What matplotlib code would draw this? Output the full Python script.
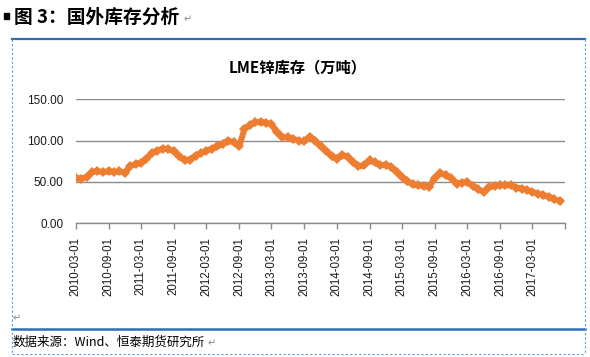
import matplotlib
matplotlib.use("Agg")
import matplotlib.pyplot as plt
from matplotlib.lines import Line2D
from matplotlib.patches import Rectangle
import datetime as dt

# ---- data (monthly readings, 2010-03 .. 2017-08), unit: 万吨 ----
start_year, start_month = 2010, 3
stock = [55, 54, 56, 62, 63, 62, 63, 62, 63, 61,
         69, 72, 73, 78, 85, 88, 90, 90, 87, 81,
         76, 77, 82, 85, 88, 90, 93, 96, 100, 98,
         93, 114, 119, 122, 123, 121, 120, 110, 104, 104,
         102, 100, 99, 105, 100, 93, 88, 81, 78, 83,
         80, 74, 69, 70, 76, 74, 70, 71, 68, 62,
         56, 51, 47, 46, 45, 44, 55, 61, 58, 55,
         48, 49, 50, 45, 41, 38, 44, 45, 46, 46,
         46, 43, 42, 40, 38, 36, 34, 32, 29, 27]
tick_labels = ["2010-03-01", "2010-09-01", "2011-03-01", "2011-09-01",
               "2012-03-01", "2012-09-01", "2013-03-01", "2013-09-01",
               "2014-03-01", "2014-09-01", "2015-03-01", "2015-09-01",
               "2016-03-01", "2016-09-01", "2017-03-01"]
y_ticks = [0, 50, 100, 150]
fig_title = "图 3：国外库存分析"
chart_title = "LME锌库存（万吨）"
source = "数据来源：Wind、恒泰期货研究所"

def month_date(i):
    m = start_month - 1 + i
    return dt.date(start_year + m // 12, m % 12 + 1, 1)

dates = [month_date(i) for i in range(len(stock))]

W, H = 590, 357
fig = plt.figure(figsize=(W / 100, H / 100), dpi=100)

def fx(px):
    return px / W

def fy(py):
    return 1 - py / H

CJK = ["Noto Sans CJK SC", "DejaVu Sans"]

ax = fig.add_axes([fx(75.7), fy(223.3), fx(565.3) - fx(75.7), fy(99.3) - fy(223.3)])
ax.plot(dates, stock, color="#ED7D31", lw=4.4, marker="D", ms=5.2,
        markeredgewidth=0, solid_joinstyle="round", zorder=3)

ax.set_ylim(0, 150)
ax.set_yticks(y_ticks)
ax.set_yticklabels([f"{v:.2f}" for v in y_ticks], fontsize=8.5, family="Liberation Sans")
ax.yaxis.grid(True, color="#8C8C8C", lw=1)
ax.set_axisbelow(True)
ax.tick_params(axis="y", length=0, pad=9, colors="#1a1a1a")

x0 = dt.date(2010, 3, 1)
x1 = dt.date(2017, 9, 1)
ax.set_xlim(x0, x1)
tick_dates = [dt.date.fromisoformat(s) for s in tick_labels] + [x1]
ax.set_xticks(tick_dates)
ax.set_xticklabels(tick_labels + [""], rotation=90, fontsize=8.3,
                   family="Liberation Sans", va="top")
ax.tick_params(axis="x", length=4, width=1, pad=6, colors="#1a1a1a")
ax.tick_params(axis="x", color="#8C8C8C")
for s in ["left", "top", "right"]:
    ax.spines[s].set_visible(False)
ax.spines["bottom"].set_color("#8C8C8C")
ax.spines["bottom"].set_linewidth(1)

# chart title
fig.text(fx(297.5), fy(67), chart_title, ha="center", va="center",
         fontsize=11, fontweight="bold", family=CJK)

# frame lines
blue = "#2E6DB4"
lblue = "#5B9BD5"
fig.add_artist(Line2D([fx(12), fx(585)], [fy(38.5), fy(38.5)], color=blue, lw=1.6))
fig.add_artist(Line2D([fx(12), fx(585)], [fy(329.3), fy(329.3)], color=blue, lw=1.8))
for xx in (12, 585):
    fig.add_artist(Line2D([fx(xx), fx(xx)], [fy(39), fy(354)], color=lblue, lw=0.8,
                          linestyle=(0, (2, 2))))
fig.add_artist(Line2D([fx(12), fx(585)], [fy(354), fy(354)], color=lblue, lw=0.8,
                      linestyle=(0, (2, 2))))

# figure heading
fig.add_artist(Rectangle((fx(4), fy(19)), fx(5) - fx(0), fy(13) - fy(19),
                         color="black", transform=fig.transFigure))
fig.text(fx(14), fy(17), fig_title, ha="left", va="center", fontsize=13.5,
         fontweight="bold", family=CJK)
fig.text(fx(184), fy(19), "↵", ha="left", va="center", fontsize=7, color="#888888",
         family=["DejaVu Sans"])

# source line
fig.text(fx(13), fy(342), source, ha="left", va="center", fontsize=9, family=CJK)
fig.text(fx(208), fy(343), "↵", ha="left", va="center", fontsize=7, color="#888888",
         family=["DejaVu Sans"])
fig.text(fx(13), fy(318), "↵", ha="left", va="center", fontsize=7, color="#888888",
         family=["DejaVu Sans"])

fig.savefig("out.png", dpi=100)
